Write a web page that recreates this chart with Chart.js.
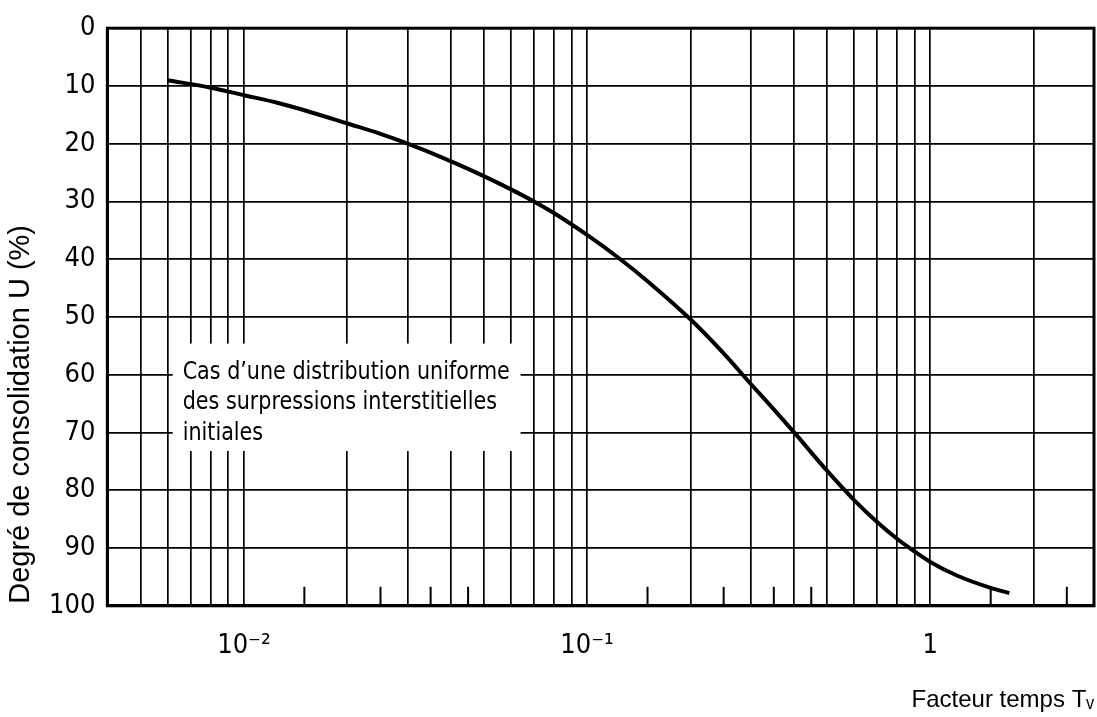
<!DOCTYPE html>
<html lang="fr">
<head>
<meta charset="utf-8">
<title>Degré de consolidation</title>
<script src="https://cdn.jsdelivr.net/npm/chart.js@4/dist/chart.umd.min.js"></script>
<style>
  html, body { margin: 0; padding: 0; background: #fff; }
  #wrap { width: 1097px; height: 717px; position: relative; }
</style>
</head>
<body>
<div id="wrap"><canvas id="consolidationChart"></canvas></div>
<script>
const tvValues = [0.006, 0.008, 0.01, 0.0125, 0.015, 0.02, 0.025, 0.03, 0.04, 0.05, 0.06, 0.07, 0.08, 0.1,
  0.125, 0.15, 0.2, 0.25, 0.3, 0.35, 0.4, 0.5, 0.6, 0.7, 0.8, 0.9, 1.0, 1.2, 1.5, 1.7];
const uValues = [9.0, 10.3, 11.6, 12.9, 14.2, 16.5, 18.3, 20.0, 23.0, 25.6, 27.9, 30.0, 32.0, 35.8,
  40.0, 43.8, 50.4, 56.3, 61.6, 66.0, 69.9, 76.6, 81.7, 85.5, 88.4, 90.6, 92.4, 94.8, 96.9, 97.8];

// axe des abscisses (log)
const gridValues = [0.005, 0.006, 0.007, 0.008, 0.009,
  0.01, 0.02, 0.03, 0.04, 0.05, 0.06, 0.07, 0.08, 0.09,
  0.1, 0.2, 0.3, 0.4, 0.5, 0.6, 0.7, 0.8, 0.9, 1, 2];
const labelValues = [0.01, 0.1, 1];
const tickLabels = ["10⁻²", "10⁻¹", "1"];
const minorTicks = [0.015, 0.025, 0.035, 0.045, 0.15, 0.25, 0.35, 0.45, 1.5, 2.5];

const yTitle = "Degré de consolidation U (%)";
const noteLines = [
  "Cas d’une distribution uniforme",
  "des surpressions interstitielles",
  "initiales",
];

const narrow = "'Liberation Sans Narrow', 'DejaVu Sans Condensed', sans-serif";
const regular = "'Liberation Sans', Arial, sans-serif";

const abaquePlugin = {
  id: "abaque",
  beforeDatasetsDraw(chart) {
    const { ctx, scales } = chart;
    const x = scales.x, y = scales.y;
    // cadre blanc sous la note
    const left = x.getPixelForValue(0.0062);
    const right = x.getPixelForValue(0.064);
    const top = y.getPixelForValue(54.6);
    const bottom = y.getPixelForValue(73.2);
    ctx.save();
    ctx.fillStyle = "#fff";
    ctx.fillRect(left, top, right - left, bottom - top);
    ctx.fillStyle = "#000";
    ctx.font = "25px " + narrow;
    ctx.textBaseline = "alphabetic";
    noteLines.forEach((line, i) => {
      ctx.save();
      ctx.translate(left + 10, top + 35 + i * 30.5);
      ctx.scale(0.92, 1);
      ctx.fillText(line, 0, 0);
      ctx.restore();
    });
    // petites graduations sur l'axe du bas
    ctx.strokeStyle = "#000";
    ctx.lineWidth = 2;
    minorTicks.forEach((v) => {
      const px = x.getPixelForValue(v);
      ctx.beginPath();
      ctx.moveTo(px, chart.chartArea.bottom);
      ctx.lineTo(px, chart.chartArea.bottom - 19);
      ctx.stroke();
    });
    ctx.restore();
  },
  afterDatasetsDraw(chart) {
    const { ctx, chartArea } = chart;
    ctx.save();
    ctx.strokeStyle = "#000";
    ctx.lineWidth = 3;
    ctx.strokeRect(chartArea.left, chartArea.top, chartArea.right - chartArea.left, chartArea.bottom - chartArea.top);
    // titre vertical, calé en bas
    ctx.translate(21, chartArea.bottom - 2);
    ctx.rotate(-Math.PI / 2);
    ctx.fillStyle = "#000";
    ctx.font = "29px " + regular;
    ctx.textAlign = "left";
    ctx.textBaseline = "middle";
    ctx.fillText(yTitle, 0, 0);
    ctx.restore();
  },
};

new Chart(document.getElementById("consolidationChart"), {
  type: "line",
  data: {
    datasets: [
      {
        data: tvValues.map((tv, i) => ({ x: tv, y: uValues[i] })),
        borderColor: "#000",
        borderWidth: 4,
        pointRadius: 0,
        fill: false,
        cubicInterpolationMode: "monotone",
      },
    ],
  },
  options: {
    responsive: true,
    maintainAspectRatio: false,
    animation: false,
    layout: { padding: { top: 27, right: 3, left: 37, bottom: 0 } },
    plugins: {
      legend: { display: false },
      tooltip: { enabled: false },
    },
    scales: {
      x: {
        type: "logarithmic",
        min: 0.004,
        max: 3,
        afterBuildTicks: (scale) => {
          scale.ticks = gridValues.map((v) => ({ value: v }));
        },
        grid: { color: "#000", lineWidth: 1.7, drawTicks: false },
        border: { color: "#000", width: 3 },
        ticks: {
          autoSkip: false,
          maxRotation: 0,
          padding: 24,
          color: "#000",
          font: { size: 27, family: narrow },
          callback: (value) => {
            const idx = labelValues.findIndex((v) => Math.abs(v - value) < v * 1e-6);
            return idx >= 0 ? tickLabels[idx] : "";
          },
        },
        title: {
          display: true,
          text: "Facteur temps Tᵥ",
          align: "end",
          color: "#000",
          font: { size: 24, family: regular },
          padding: { top: 0, bottom: 2 },
        },
      },
      y: {
        reverse: true,
        min: 0,
        max: 100,
        grid: { color: "#000", lineWidth: 1.7, drawTicks: false },
        border: { color: "#000", width: 3 },
        ticks: {
          stepSize: 10,
          padding: 12,
          color: "#000",
          font: { size: 27, family: narrow },
        },
      },
    },
  },
  plugins: [abaquePlugin],
});
</script>
</body>
</html>
